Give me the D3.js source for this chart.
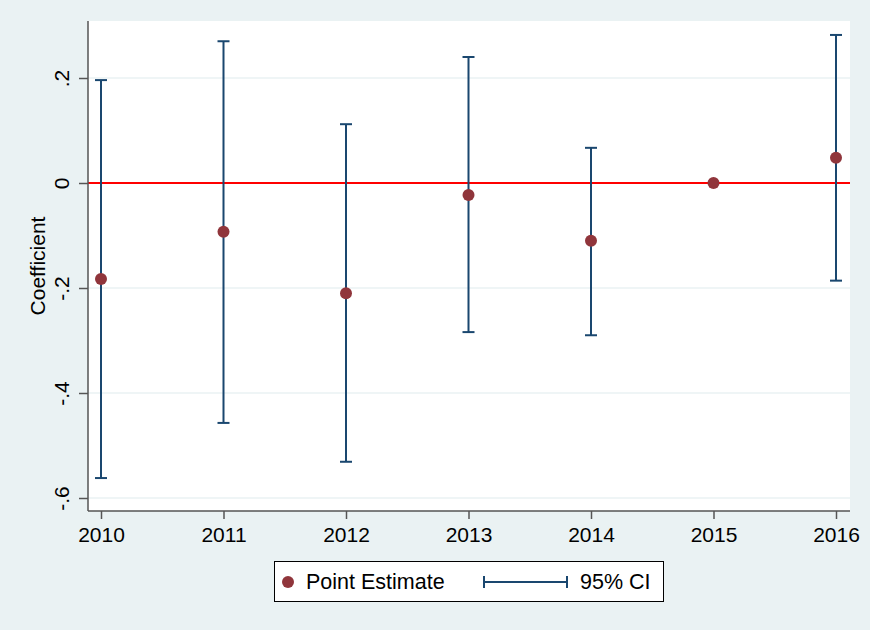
<!DOCTYPE html>
<html>
<head>
<meta charset="utf-8">
<script src="https://cdn.jsdelivr.net/npm/d3@7"></script>
<style>
  body { margin: 0; background: #eaf2f3; }
  svg { display: block; font-family: "Liberation Sans", Arial, sans-serif; }
</style>
</head>
<body>
<svg id="chart" width="870" height="630"></svg>
<script>
// Event-study coefficients with 95% confidence intervals
const years = [2010, 2011, 2012, 2013, 2014, 2015, 2016];
const estimates = [-0.183, -0.093, -0.210, -0.023, -0.110, 0, 0.048];
const ciLower = [-0.562, -0.457, -0.531, -0.284, -0.290, null, -0.186];
const ciUpper = [0.196, 0.270, 0.112, 0.240, 0.067, null, 0.282];
const yTicks = [-0.6, -0.4, -0.2, 0, 0.2];

const data = years.map((year, i) => ({
  year,
  est: estimates[i],
  lo: ciLower[i],
  hi: ciUpper[i],
}));

const WIDTH = 870;
const HEIGHT = 630;
const plot = { left: 88, right: 850, top: 21, bottom: 511 };
const FONT = 21;

const COLORS = {
  background: "#eaf2f3",
  grid: "#eaf2f3",
  axis: "#555555",
  ci: "#1a476f",
  point: "#90353b",
  zero: "#ff0000",
};

const svg = d3.select("#chart");

svg.append("rect")
  .attr("width", WIDTH)
  .attr("height", HEIGHT)
  .attr("fill", COLORS.background);

// Plot region
svg.append("rect")
  .attr("x", plot.left)
  .attr("y", plot.top)
  .attr("width", plot.right - plot.left)
  .attr("height", plot.bottom - plot.top)
  .attr("fill", "#ffffff");

const x = d3.scaleLinear().domain([2010, 2016]).range([101, 836]);
// 0 sits at y=183, .2 at y=78
const y = d3.scaleLinear().domain([0, 0.2]).range([183, 78]);

// Stata-style labels: "-.2", ".2", "0"
const stataFormat = (d) =>
  d === 0 ? "0" : d3.format(".1f")(d).replace("0.", ".").replace("\u2212", "-");

// Gridlines
svg.append("g")
  .selectAll("line")
  .data(yTicks)
  .join("line")
  .attr("x1", plot.left)
  .attr("x2", plot.right)
  .attr("y1", (d) => y(d))
  .attr("y2", (d) => y(d))
  .attr("stroke", COLORS.grid)
  .attr("stroke-width", 1.5);

// Zero reference line
svg.append("line")
  .attr("x1", plot.left)
  .attr("x2", plot.right)
  .attr("y1", y(0))
  .attr("y2", y(0))
  .attr("stroke", COLORS.zero)
  .attr("stroke-width", 1.8);

// Y axis
const yAxis = svg.append("g")
  .attr("transform", `translate(${plot.left},0)`)
  .call(
    d3.axisLeft(y)
      .tickValues(yTicks)
      .tickSize(9)
      .tickPadding(10)
      .tickFormat(stataFormat)
  );
yAxis.select(".domain")
  .attr("d", `M0,${plot.top}V${plot.bottom}`)
  .attr("stroke", COLORS.axis)
  .attr("stroke-width", 1.5);
yAxis.selectAll(".tick line").attr("stroke", COLORS.axis).attr("stroke-width", 1.5);
yAxis.selectAll(".tick text")
  .attr("font-size", FONT)
  .attr("fill", "#000")
  .attr("text-anchor", "middle")
  .attr("dy", null)
  .attr("x", null)
  .attr("transform", "translate(-27,0) rotate(-90)")
  .attr("y", 8);

// X axis
const xAxis = svg.append("g")
  .attr("transform", `translate(0,${plot.bottom})`)
  .call(
    d3.axisBottom(x)
      .tickValues(years)
      .tickSize(8)
      .tickPadding(8)
      .tickFormat(d3.format("d"))
  );
xAxis.select(".domain")
  .attr("d", `M${plot.left},0H${plot.right}`)
  .attr("stroke", COLORS.axis)
  .attr("stroke-width", 1.5);
xAxis.selectAll(".tick line").attr("stroke", COLORS.axis).attr("stroke-width", 1.5);
xAxis.selectAll(".tick text").attr("font-size", FONT).attr("fill", "#000");

// Axis title
svg.append("text")
  .attr("transform", `translate(45,${(plot.top + plot.bottom) / 2}) rotate(-90)`)
  .attr("text-anchor", "middle")
  .attr("font-size", FONT)
  .attr("fill", "#000")
  .text("Coefficient");

// Confidence intervals
const ciData = data.filter((d) => d.lo !== null);
const CAP = 6;
const ci = svg.append("g")
  .attr("stroke", COLORS.ci)
  .attr("stroke-width", 2);

ci.selectAll("line.bar")
  .data(ciData)
  .join("line")
  .attr("class", "bar")
  .attr("x1", (d) => x(d.year))
  .attr("x2", (d) => x(d.year))
  .attr("y1", (d) => y(d.lo))
  .attr("y2", (d) => y(d.hi));

ci.selectAll("line.capHi")
  .data(ciData)
  .join("line")
  .attr("class", "capHi")
  .attr("x1", (d) => x(d.year) - CAP)
  .attr("x2", (d) => x(d.year) + CAP)
  .attr("y1", (d) => y(d.hi))
  .attr("y2", (d) => y(d.hi));

ci.selectAll("line.capLo")
  .data(ciData)
  .join("line")
  .attr("class", "capLo")
  .attr("x1", (d) => x(d.year) - CAP)
  .attr("x2", (d) => x(d.year) + CAP)
  .attr("y1", (d) => y(d.lo))
  .attr("y2", (d) => y(d.lo));

// Point estimates
svg.append("g")
  .selectAll("circle")
  .data(data)
  .join("circle")
  .attr("cx", (d) => x(d.year))
  .attr("cy", (d) => y(d.est))
  .attr("r", 6)
  .attr("fill", COLORS.point);

// Legend
const legend = svg.append("g");
legend.append("rect")
  .attr("x", 274.5)
  .attr("y", 561.5)
  .attr("width", 389)
  .attr("height", 40)
  .attr("fill", "#ffffff")
  .attr("stroke", "#000")
  .attr("stroke-width", 1);

legend.append("circle")
  .attr("cx", 288)
  .attr("cy", 582)
  .attr("r", 6)
  .attr("fill", COLORS.point);

legend.append("text")
  .attr("x", 306)
  .attr("y", 589)
  .attr("font-size", 21.5)
  .attr("fill", "#000")
  .text("Point Estimate");

legend.append("path")
  .attr("d", "M484,576V588M484,582H567M567,576V588")
  .attr("fill", "none")
  .attr("stroke", COLORS.ci)
  .attr("stroke-width", 2);

legend.append("text")
  .attr("x", 580)
  .attr("y", 589)
  .attr("font-size", 21.5)
  .attr("fill", "#000")
  .text("95% CI");
</script>
</body>
</html>
